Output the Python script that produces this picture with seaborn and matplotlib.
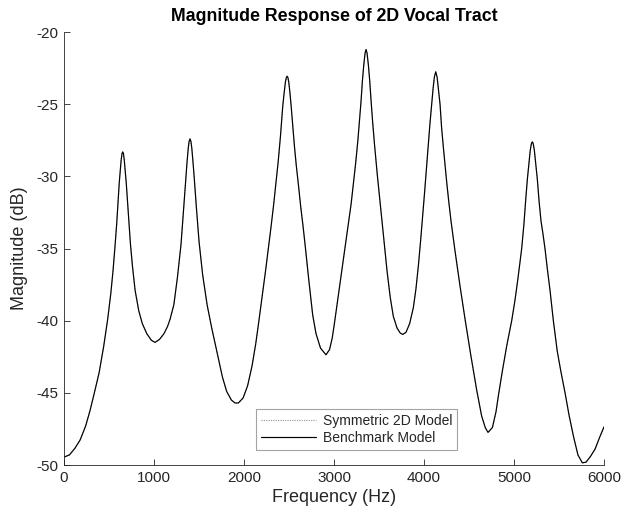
import numpy as np
import pandas as pd
import matplotlib
matplotlib.use("Agg")
import matplotlib.pyplot as plt
import seaborn as sns

# Frequency grid (Hz), one row per formant region
freq_hz = [
    0, 60, 120, 180, 240, 290, 337, 390, 440, 485, 520, 545, 567, 585, 600, 614, 625, 635,
    645, 652, 660, 670, 680, 692, 705, 720, 737, 760, 790, 830, 870, 920, 970,
    1011, 1060, 1110, 1150, 1178, 1220, 1260, 1300, 1330, 1350, 1365, 1380, 1390, 1400,
    1410, 1420, 1435, 1448, 1470, 1500, 1540, 1590, 1641, 1700, 1760, 1807, 1860, 1900,
    1937, 1990, 2040, 2090, 2130, 2159, 2200, 2240, 2270, 2300, 2330, 2356, 2380, 2405,
    2430, 2445, 2460, 2470, 2478, 2488, 2498, 2510, 2522, 2540, 2560, 2580, 2603, 2630,
    2655, 2678, 2720, 2763, 2800, 2850,
    2911, 2950, 2980, 3004, 3040, 3080, 3122, 3160, 3190, 3215, 3240, 3265, 3285, 3300,
    3315, 3330, 3345, 3356, 3367, 3382, 3397, 3411, 3430, 3450, 3481, 3510, 3535, 3556,
    3590, 3625, 3659, 3700, 3735,
    3763, 3800, 3840, 3881, 3910, 3937, 3960, 3985, 4005, 4022, 4045, 4065, 4085, 4100,
    4115, 4130, 4145, 4160, 4178, 4195, 4215, 4235, 4252, 4275, 4300, 4322, 4344, 4400,
    4456, 4520, 4585, 4640, 4680,
    4711, 4760, 4800, 4826, 4870, 4920, 4974, 5010, 5045, 5085, 5110, 5130, 5148, 5165,
    5180, 5193, 5203, 5213, 5226, 5241, 5259, 5278, 5300, 5322, 5344, 5370, 5400, 5437,
    5480, 5520, 5567, 5610, 5660, 5710, 5759, 5800, 5850, 5900, 5950, 6000,
]
# Magnitude (dB) at each frequency above
benchmark_db = [
    -49.45, -49.3, -48.85, -48.25, -47.3, -46.2, -45.0, -43.6, -41.8, -39.9, -38.1, -36.5,
    -34.8, -33.3, -31.8, -30.4, -29.55, -28.85, -28.4, -28.3, -28.4, -28.9, -29.6, -30.5,
    -31.7, -33.1, -34.6, -36.2, -37.9, -39.3, -40.2, -40.9, -41.35,
    -41.5, -41.3, -40.9, -40.4, -39.9, -38.9, -37.0, -34.7, -32.2, -30.45, -29.15, -28.05,
    -27.57, -27.4, -27.57, -28.05, -29.15, -30.2, -32.1, -34.5, -36.8, -38.9, -40.5, -42.2,
    -43.9, -44.9, -45.5, -45.7,
    -45.7, -45.35, -44.5, -43.1, -41.6, -40.3, -38.4, -36.5, -35.0, -33.5, -31.9, -30.4,
    -28.95, -27.2, -25.15, -24.25, -23.45, -23.15, -23.05, -23.15, -23.5, -24.2, -25.0,
    -26.35, -27.9, -29.2, -30.5, -32.1, -33.4, -34.7, -37.2, -39.6, -40.9, -41.9,
    -42.36, -42.0, -41.2, -40.2, -38.6, -36.8, -35.0, -33.3, -31.9, -30.5, -29.1, -27.5,
    -26.0, -24.8, -23.4, -22.3, -21.45, -21.2, -21.45, -22.3, -23.4, -24.7, -26.3, -27.8,
    -29.9, -31.7, -33.3, -34.6, -36.6, -38.4, -39.7, -40.5, -40.85,
    -40.95, -40.8, -40.2, -39.1, -37.8, -36.2, -34.6, -32.75, -31.2, -29.85, -27.95, -26.4,
    -24.95, -23.95, -23.1, -22.75, -23.1, -23.95, -25.0, -26.6, -28.0, -29.3, -30.4, -31.75,
    -33.1, -34.15, -35.15, -37.6, -39.9, -42.4, -44.8, -46.6, -47.4,
    -47.74, -47.4, -46.3, -45.2, -43.5, -41.7, -40.0, -38.6, -37.0, -35.0, -33.3, -31.6,
    -30.2, -29.1, -28.2, -27.72, -27.6, -27.72, -28.2, -29.1, -30.2, -31.7, -33.1, -34.0,
    -35.0, -36.4, -37.9, -40.0, -42.1, -43.5, -45.0, -46.5, -48.0, -49.3, -49.85, -49.8,
    -49.4, -48.9, -48.1, -47.35,
]
assert len(freq_hz) == len(benchmark_db)
# The symmetric 2D model traces the benchmark curve
symmetric_db = list(benchmark_db)

series_names = ["Symmetric 2D Model", "Benchmark Model"]
x_ticks = [0, 1000, 2000, 3000, 4000, 5000, 6000]
y_ticks = [-50, -45, -40, -35, -30, -25, -20]

df = pd.concat([
    pd.DataFrame({"Frequency": freq_hz, "Magnitude": symmetric_db, "Model": series_names[0]}),
    pd.DataFrame({"Frequency": freq_hz, "Magnitude": benchmark_db, "Model": series_names[1]}),
], ignore_index=True)

sns.set_theme(style="ticks")
plt.rcParams["font.family"] = ["Liberation Sans", "DejaVu Sans"]
plt.rcParams["axes.unicode_minus"] = False

fig = plt.figure(figsize=(6.24, 5.19), dpi=100)
ax = fig.add_axes([0.1026, 0.104, 0.8654, 0.834])

sns.lineplot(
    data=df, x="Frequency", y="Magnitude", hue="Model", style="Model",
    palette={series_names[0]: "#9a9a9a", series_names[1]: "#000000"},
    dashes={series_names[0]: (1, 1), series_names[1]: ""},
    linewidth=0.85, sort=False, estimator=None, ax=ax,
)

ax.set_xlim(0, 6000)
ax.set_ylim(-50, -20)
ax.set_xticks(x_ticks)
ax.set_yticks(y_ticks)
ax.set_xticklabels([str(v) for v in x_ticks])
ax.set_yticklabels([str(v) for v in y_ticks])

text_col = "#262626"
for side in ("top", "right"):
    ax.spines[side].set_visible(False)
for side in ("left", "bottom"):
    ax.spines[side].set_color(text_col)
    ax.spines[side].set_linewidth(0.6)
ax.tick_params(direction="in", length=4, width=0.6, color=text_col,
               labelcolor=text_col, labelsize=11, pad=4)

ax.set_xlabel("Frequency (Hz)", fontsize=13, color=text_col, labelpad=3)
ax.set_ylabel("Magnitude (dB)", fontsize=13, color=text_col, labelpad=6)
ax.set_title("Magnitude Response of 2D Vocal Tract", fontsize=12.8,
             fontweight="bold", color="black", pad=8)

leg = ax.legend(loc="lower center", bbox_to_anchor=(0.5417, 0.035), fontsize=10,
                frameon=True, fancybox=False, handlelength=4.0, handletextpad=0.5,
                borderpad=0.35, labelspacing=0.2, borderaxespad=0.0)
leg.get_frame().set_edgecolor("#8c8c8c")
leg.get_frame().set_linewidth(0.8)
for t in leg.get_texts():
    t.set_color(text_col)

fig.savefig("out.png", dpi=100, facecolor="white")
